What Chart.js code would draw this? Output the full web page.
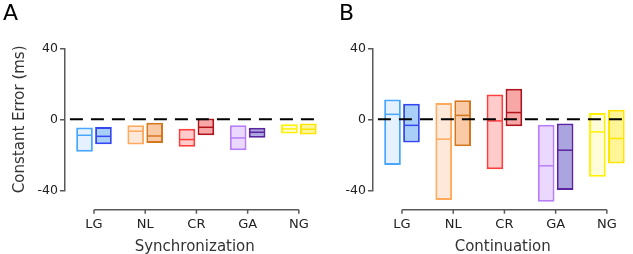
<!DOCTYPE html>
<html>
<head>
<meta charset="utf-8">
<script src="https://cdn.jsdelivr.net/npm/chart.js@4.4.0/dist/chart.umd.min.js"></script>
<style>
html, body { margin: 0; padding: 0; background: #fff; }
body { width: 633px; height: 254px; overflow: hidden; position: relative; }
canvas { position: absolute; top: 0; }
#chartA { left: 0; }
#chartB { left: 318px; }
.panel { position: absolute; top: 2px; font: 22px 'DejaVu Sans', sans-serif; line-height: 22px; color: #000; }
</style>
</head>
<body>
<canvas id="chartA" width="336" height="254"></canvas>
<canvas id="chartB" width="326" height="254"></canvas>
<div class="panel" style="left:3px">A</div>
<div class="panel" style="left:339px">B</div>
<script>
// groups on the x axis
const groups = ['LG', 'NL', 'CR', 'GA', 'NG'];

// Synchronization: box bottom / median / top (ms)
const syncLightLow  = [-18.3, -14.2, -15.5, -17.4, -8.0];
const syncLightMed  = [-9.0, -6.7, -11.4, -10.5, -5.4];
const syncLightHigh = [-4.6, -3.4, -5.3, -3.4, -2.8];
const syncDarkLow   = [-14.0, -13.3, -9.0, -10.4, -8.6];
const syncDarkMed   = [-9.6, -9.4, -4.5, -7.3, -5.6];
const syncDarkHigh  = [-4.3, -2.0, 0.4, -4.8, -2.4];

// Continuation
const contLightLow  = [-25.8, -45.5, -28.1, -46.5, -32.4];
const contLightMed  = [2.8, -11.2, -0.9, -26.2, -7.1];
const contLightHigh = [11.2, 9.2, 14.0, -3.0, 3.5];
const contDarkLow   = [-13.1, -15.2, -3.9, -39.9, -24.9];
const contDarkMed   = [-3.4, 2.2, 3.8, -17.4, -10.8];
const contDarkHigh  = [8.8, 10.7, 17.2, -2.4, 5.4];

const yTicks = [-40, 0, 40];

// colours
const lightBorder = ['#48a6ff', '#ffa95c', '#ff3d3d', '#b77ef7', '#fff200'];
const lightFill   = ['#e5f1fe', '#fee8d9', '#ffcbcb', '#ebd8fe', '#fffcda'];
const darkBorder  = ['#3347f2', '#d5771f', '#b0141c', '#5a239f', '#ffe500'];
const darkFill    = ['#a8cff8', '#f9caa5', '#f8a7a7', '#aaa4df', '#fff597'];

Chart.defaults.font.family = "'DejaVu Sans', sans-serif";
Chart.defaults.color = '#222';

const axisColor = '#595959';

// medians, dashed zero line and the detached x axis
const decor = {
  id: 'decor',
  afterDatasetsDraw(chart) {
    const ctx = chart.ctx;
    const xs = chart.scales.x, ys = chart.scales.y;
    ctx.save();
    chart.data.datasets.forEach((ds, d) => {
      chart.getDatasetMeta(d).data.forEach((bar, i) => {
        const y = ys.getPixelForValue(ds.medians[i]);
        ctx.strokeStyle = ds.borderColor[i];
        ctx.lineWidth = 1.5;
        ctx.beginPath();
        ctx.moveTo(bar.x - bar.width / 2 + 1, y);
        ctx.lineTo(bar.x + bar.width / 2 - 1, y);
        ctx.stroke();
      });
    });
    const y0 = ys.getPixelForValue(0);
    ctx.strokeStyle = '#000';
    ctx.lineWidth = 2;
    ctx.setLineDash([13, 8]);
    ctx.beginPath();
    ctx.moveTo(xs.getPixelForValue(-0.47), y0);
    ctx.lineTo(xs.getPixelForValue(4.36), y0);
    ctx.stroke();
    ctx.setLineDash([]);
    const yb = ys.getPixelForValue(-51);
    ctx.strokeStyle = axisColor;
    ctx.lineWidth = 1.5;
    ctx.beginPath();
    ctx.moveTo(xs.getPixelForValue(0), yb);
    ctx.lineTo(xs.getPixelForValue(groups.length - 1), yb);
    groups.forEach((g, i) => {
      const x = xs.getPixelForValue(i);
      ctx.moveTo(x, yb);
      ctx.lineTo(x, yb + 4);
    });
    ctx.stroke();
    ctx.restore();
  }
};

function boxes(lo, hi) {
  return groups.map((g, i) => ({ x: i, y: [lo[i], hi[i]] }));
}

function makePanel(id, xTitle, yTitle, yWidth, lLo, lMed, lHi, dLo, dMed, dHi) {
  return new Chart(document.getElementById(id), {
    type: 'bar',
    data: {
      datasets: [{
        data: boxes(lLo, lHi),
        medians: lMed,
        backgroundColor: lightFill,
        borderColor: lightBorder
      }, {
        data: boxes(dLo, dHi),
        medians: dMed,
        backgroundColor: darkFill,
        borderColor: darkBorder
      }]
    },
    options: {
      responsive: false,
      animation: false,
      layout: { padding: { top: 48.3, right: 2.5, bottom: 0, left: 0 } },
      datasets: {
        bar: {
          borderWidth: 2,
          borderSkipped: false,
          categoryPercentage: 0.74,
          barPercentage: 0.88,
          clip: false
        }
      },
      plugins: { legend: { display: false }, tooltip: { enabled: false } },
      scales: {
        x: {
          type: 'linear',
          offset: false,
          min: -0.566,
          max: 4.5,
          afterBuildTicks: s => { s.ticks = groups.map((g, i) => ({ value: i })); },
          afterFit: s => { s.height = 63.7; },
          grid: { display: false, drawTicks: false, offset: false },
          border: { display: false },
          ticks: {
            callback: v => groups[v],
            padding: 27,
            font: { size: 13 },
            color: '#222',
            maxRotation: 0
          },
          title: {
            display: true,
            text: xTitle,
            font: { size: 15, lineHeight: 1 },
            color: '#333',
            padding: { top: 0, bottom: -0.5 }
          }
        },
        y: {
          min: -40,
          max: 40,
          afterBuildTicks: s => { s.ticks = yTicks.map(v => ({ value: v })); },
          afterFit: s => { s.width = yWidth; },
          grid: { drawOnChartArea: false, drawTicks: true, tickLength: 5, color: axisColor, lineWidth: 1.5 },
          border: { display: true, color: axisColor, width: 1.5 },
          ticks: { padding: 2, font: { size: 12.5 }, color: '#222' },
          title: {
            display: !!yTitle,
            text: yTitle,
            font: { size: 15 },
            color: '#333',
            padding: { top: 11, bottom: 0 }
          }
        }
      }
    },
    plugins: [decor]
  });
}

makePanel('chartA', 'Synchronization', 'Constant Error (ms)', 65,
  syncLightLow, syncLightMed, syncLightHigh, syncDarkLow, syncDarkMed, syncDarkHigh);
makePanel('chartB', 'Continuation', '', 55,
  contLightLow, contLightMed, contLightHigh, contDarkLow, contDarkMed, contDarkHigh);
</script>
</body>
</html>
